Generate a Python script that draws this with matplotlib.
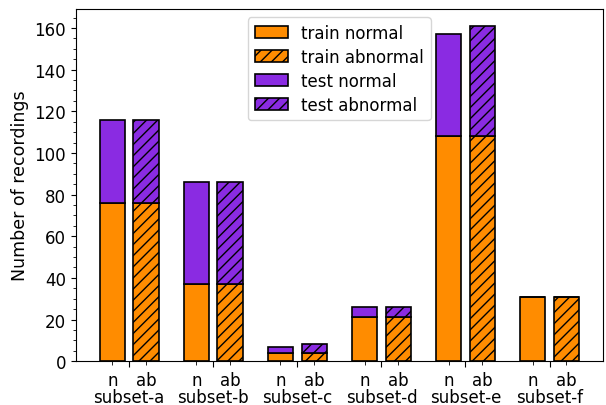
import numpy as np
import matplotlib
matplotlib.use("Agg")
import matplotlib.pyplot as plt
from matplotlib.ticker import MultipleLocator, FixedLocator, FixedFormatter

subsets = ["subset-a", "subset-b", "subset-c", "subset-d", "subset-e", "subset-f"]
train_normal = [76, 37, 4, 21, 108, 31]
train_abnormal = [76, 37, 4, 21, 108, 31]
test_normal = [40, 49, 3, 5, 49, 0]
test_abnormal = [40, 49, 4, 5, 53, 0]
bar_labels = ["n", "ab"]

orange = "#FF8C00"
purple = "#8A2BE2"
width = 0.3
offset = 0.2

plt.rcParams["font.size"] = 12
plt.rcParams["hatch.linewidth"] = 1.0

fig, ax = plt.subplots(figsize=(6.06, 4.06), dpi=100)
x = np.arange(len(subsets))

style = dict(edgecolor="black", linewidth=1.2)
ax.bar(x - offset, train_normal, width, color=orange, label="train normal", **style)
ax.bar(x + offset, train_abnormal, width, color=orange, hatch="///",
       label="train abnormal", **style)
ax.bar(x - offset, test_normal, width, bottom=train_normal, color=purple,
       label="test normal", **style)
ax.bar(x + offset, test_abnormal, width, bottom=train_abnormal, color=purple,
       hatch="///", label="test abnormal", **style)

ax.set_ylabel("Number of recordings", fontsize=12.5)
ax.yaxis.set_minor_locator(MultipleLocator(5))
ax.yaxis.set_major_locator(MultipleLocator(20))

# group labels on major ticks, bar labels on minor ticks
ax.set_xticks(x)
ax.set_xticklabels(subsets)
minor_pos = np.sort(np.concatenate([x - offset, x + offset]))
ax.xaxis.set_minor_locator(FixedLocator(minor_pos))
ax.xaxis.set_minor_formatter(FixedFormatter(bar_labels * len(subsets)))
ax.tick_params(axis="x", which="major", length=4.5, pad=15)
ax.tick_params(axis="x", which="minor", length=3, pad=4, labelsize=12)

ax.legend(loc="upper center", labelspacing=0.35)

fig.subplots_adjust(left=0.125, right=0.995, top=0.975, bottom=0.108)
fig.savefig("out.png", dpi=100)
